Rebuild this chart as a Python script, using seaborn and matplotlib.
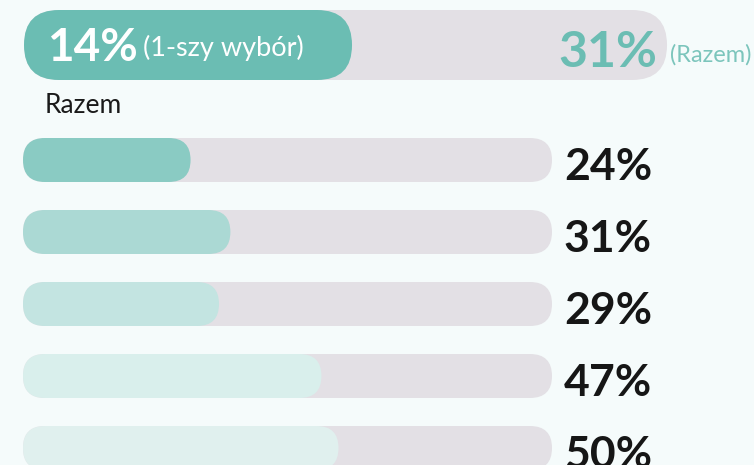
import matplotlib.pyplot as plt
import pandas as pd
import seaborn as sns
from matplotlib.patches import FancyBboxPatch

# chart data
categories = ["Odpowiedź 1", "Odpowiedź 2", "Odpowiedź 3", "Odpowiedź 4", "Odpowiedź 5"]
values = [24, 31, 29, 47, 50]
first_choice = 14
total = 31
first_label = "(1-szy wybór)"
total_label = "(Razem)"
section_label = "Razem"

BG = "#f5fbfb"
TRACK = "#e3e0e5"
TEAL = "#6bbdb3"
fill_colors = ["#8acbc3", "#abd9d4", "#c3e4e1", "#d9efec", "#e0f0ee"]

W, H = 754, 465

sns.set_style("white")
plt.rcParams["font.family"] = ["Lato", "DejaVu Sans"]

fig = plt.figure(figsize=(W / 100, H / 100), dpi=100)
fig.patch.set_facecolor(BG)


def capsule(ax, x0, x1, yc, h, color, aspect):
    # rounded bar with semicircle ends (aspect = y units per x unit on screen)
    rx = h / 2 / aspect * 0.999
    p = FancyBboxPatch((x0, yc - h / 2), x1 - x0, h,
                       boxstyle=f"round,pad=0,rounding_size={rx}",
                       mutation_aspect=aspect, facecolor=color,
                       edgecolor="none", linewidth=0)
    ax.add_patch(p)


def ftext(x, y, s, **kw):
    # text placed in figure pixels (from top-left)
    fig.text(x / W, 1 - y / H, s, **kw)


# --- list of bars ---
ax = fig.add_axes([0, 0, 1, 1])
df = pd.DataFrame({"kategoria": categories, "procent": values})
sns.barplot(data=df, x="procent", y="kategoria", hue="kategoria",
            palette=fill_colors, saturation=1, legend=False,
            errorbar=None, width=44 / 72, ax=ax)
xmin, xmax = -54 / 5.69, (W - 54) / 5.69
ytop, ybot = -160 / 72, (H - 160) / 72
ax.set_xlim(xmin, xmax)
ax.set_ylim(ybot, ytop)
ax.axis("off")

xpx = (xmax - xmin) / W
ypx = (ybot - ytop) / H
aspect = ypx / xpx
x_left = xmin + 23 * xpx
track_end = xmin + 552 * xpx

bars = sorted(ax.patches, key=lambda b: b.get_y())
for bar, val in zip(bars, values):
    yc = bar.get_y() + bar.get_height() / 2
    h = bar.get_height()
    w = bar.get_width()
    color = bar.get_facecolor()
    bar.remove()
    capsule(ax, x_left, track_end, yc, h, TRACK, aspect)
    capsule(ax, x_left, w, yc, h, color, aspect)
    ax.text(xmin + 608 * xpx, yc + 20 * ypx, f"{val}%", ha="center",
            va="baseline", fontsize=32, fontweight="bold", color="#161616")

# --- header bar (1st choice vs total) ---
ax_top = fig.add_axes([0, 0, 1, 1])
tmin, tmax = -92.6 / 18.53, (W - 92.6) / 18.53
ax_top.set_xlim(tmin, tmax)
ax_top.set_ylim(H - 45, -45)
ax_top.axis("off")
tb_total = ax_top.barh([0], [total], height=70)[0]
tb_first = ax_top.barh([0], [first_choice], height=70)[0]
t_xpx = (tmax - tmin) / W
t_aspect = 1 / t_xpx
t_left = tmin + 24 * t_xpx
for bar, color in [(tb_total, TRACK), (tb_first, TEAL)]:
    w = bar.get_width()
    h = bar.get_height()
    bar.remove()
    capsule(ax_top, t_left, w, 0, h, color, t_aspect)

ftext(47, 61, f"{first_choice}%", fontsize=33, fontweight="bold",
      color="white", ha="left", va="baseline")
ftext(143, 56, first_label, fontsize=19.5, color="white",
      ha="left", va="baseline")
ftext(657, 67, f"{total}%", fontsize=36, fontweight="bold", color=TEAL,
      ha="right", va="baseline")
ftext(670, 62, total_label, fontsize=17, color="#7cc5bc",
      ha="left", va="baseline")
ftext(45, 113, section_label, fontsize=19, color="#1a1a1a",
      ha="left", va="baseline")

fig.savefig("out.png", dpi=100, facecolor=BG)
